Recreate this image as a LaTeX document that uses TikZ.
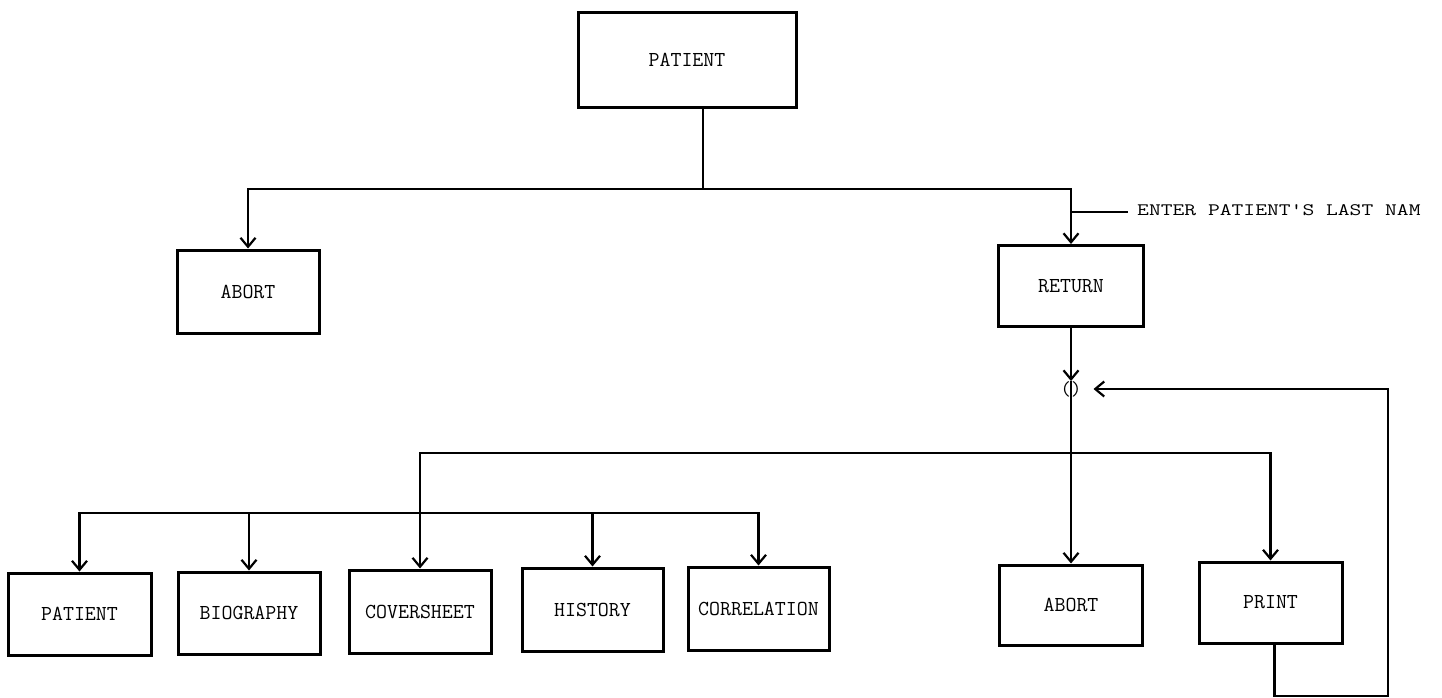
\documentclass[tikz,border=0pt]{standalone}
\usepackage{fontspec}
\usetikzlibrary{arrows.meta}
\begin{document}
\begin{tikzpicture}[x=1pt,y=-1pt,
  box/.style={draw,line width=3pt,inner sep=0pt,font=\ttfamily\fontsize{21.3}{24}\selectfont},
  conn/.style={line width=2.4pt},
  arr/.style={conn,-{Straight Barb[length=9pt,width=15pt,line width=2.2pt]}}]
\useasboundingbox (0,0) rectangle (1442,698);
% boxes
\node[box,minimum width=218pt,minimum height=95pt] (top) at (687,60) {PATIENT};
\node[box,minimum width=142pt,minimum height=83pt] (ab1) at (248,291.5) {ABORT};
\node[box,minimum width=145pt,minimum height=81pt] (ret) at (1071,286) {RETURN};
\node[box,minimum width=143pt,minimum height=82pt] (p2) at (79.5,614) {PATIENT};
\node[box,minimum width=142pt,minimum height=82pt] (bio) at (249,613) {BIOGRAPHY};
\node[box,minimum width=142pt,minimum height=83pt] (cov) at (420,611.5) {COVERSHEET};
\node[box,minimum width=141pt,minimum height=83pt] (his) at (592.5,609.5) {HISTORY};
\node[box,minimum width=141pt,minimum height=83pt] (cor) at (758.5,608.5) {CORRELATION};
\node[box,minimum width=143pt,minimum height=80pt] (ab2) at (1071,605) {ABORT};
\node[box,minimum width=143pt,minimum height=81pt] (pr) at (1270.5,602.5) {PRINT};
\node[inner sep=0pt,font=\ttfamily\fontsize{20}{22}\selectfont] (junc) at (1071,389) {()};
\node[anchor=west,inner sep=0pt,font=\ttfamily\fontsize{17.5}{20}\selectfont] (lbl) at (1137,210) {\scalebox{1.31}[1]{ENTER PATIENT'S LAST NAM}};
% top tree
\coordinate (t1) at (703,189);
\coordinate (bL) at (ab1.north |- t1);
\coordinate (bR) at (ret.north |- t1);
\draw[conn] ([xshift=16pt]top.south) -- (t1);
\draw[arr] (t1) -- (bL) -- (ab1.north);
\draw[arr] (t1) -- (bR) -- (ret.north);
% label connector
\coordinate (e1) at (1071,212);
\draw[conn] (e1) -- ([xshift=-9pt]lbl.west |- e1);
% return to junction and below
\draw[arr] (ret.south) -- (junc.north);
\draw[arr] (junc.north) -- (ab2.north);
% upper bus
\coordinate (u0) at (1071,453);
\coordinate (uL) at (cov.north |- u0);
\coordinate (uR) at (pr.north |- u0);
\draw[arr] (u0) -- (uL) -- (cov.north);
\draw[arr] (u0) -- (uR) -- (pr.north);
% lower bus
\coordinate (l0) at (420,513);
\draw[arr] (l0) -- (p2.north |- l0) -- (p2.north);
\draw[arr] (l0) -- (bio.north |- l0) -- (bio.north);
\draw[arr] (l0) -- (his.north |- l0) -- (his.north);
\draw[arr] (l0) -- (cor.north |- l0) -- (cor.north);
% loop back from PRINT
\coordinate (lpA) at ([xshift=4pt]pr.south);
\coordinate (lpB) at (lpA |- 0,696);
\coordinate (lpC) at (1388,696);
\coordinate (lpD) at (lpC |- junc);
\draw[arr] (lpA) -- (lpB) -- (lpC) -- (lpD) -- ([xshift=12pt]junc.east);
\end{tikzpicture}
\end{document}
